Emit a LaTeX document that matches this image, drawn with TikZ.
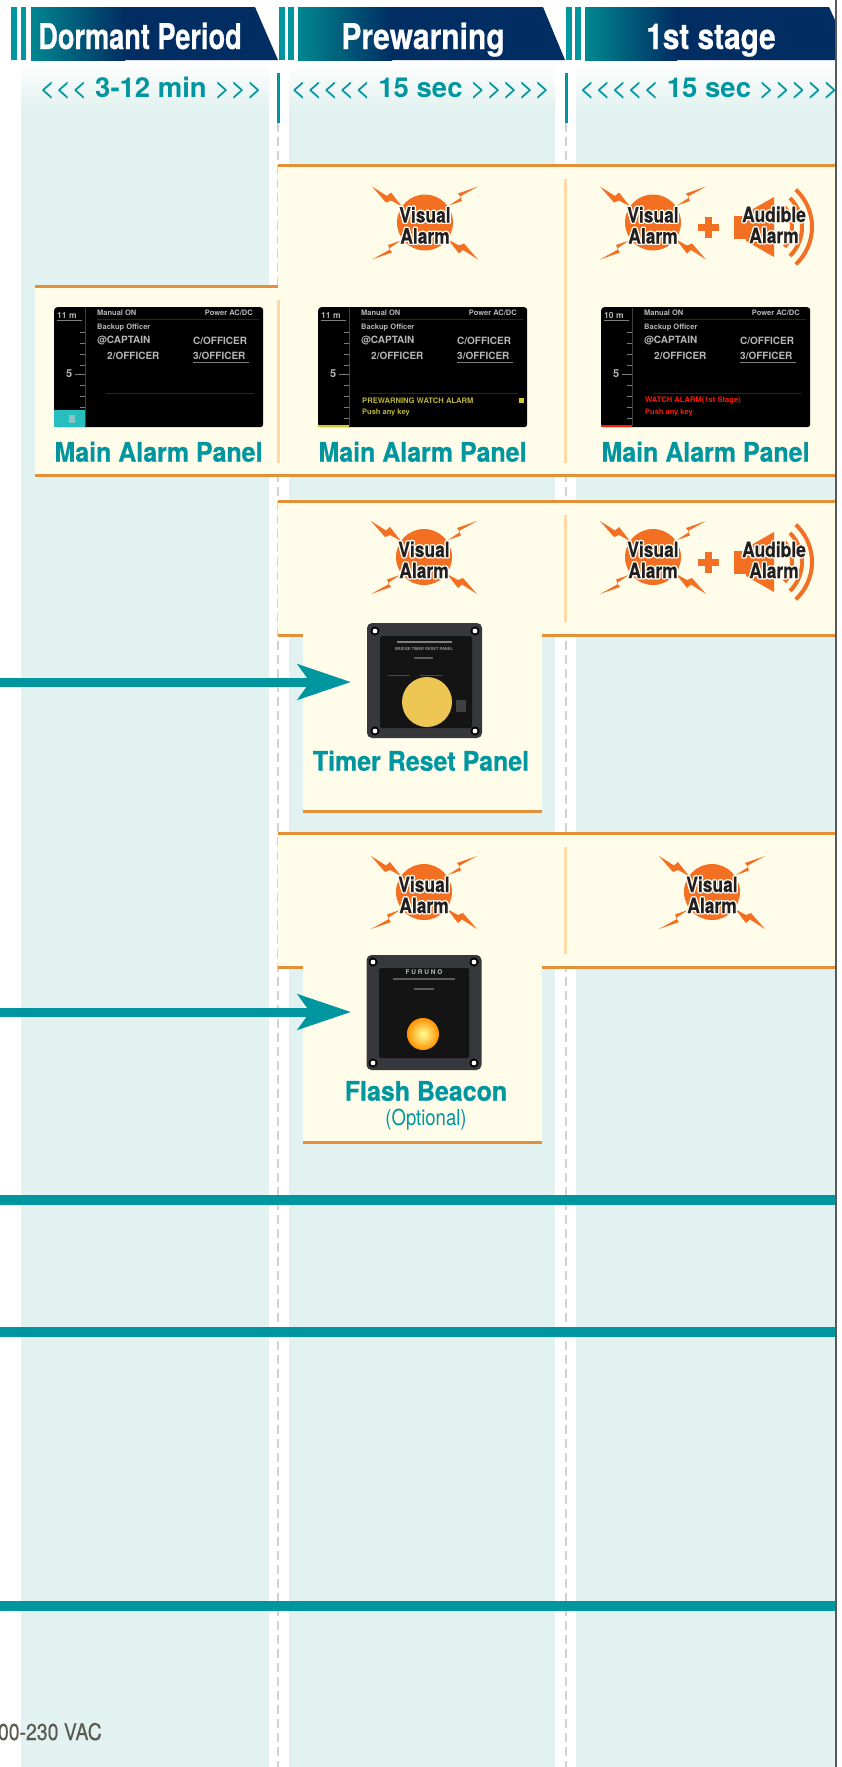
\documentclass[tikz,border=0pt]{standalone}
\usepackage{fontspec}
\usepackage{graphicx}
\usetikzlibrary{arrows.meta}
\setmainfont{TeX Gyre Heros}
\newfontfamily\hdrfont{TeX Gyre Heros}[FakeStretch=0.765,FakeBold=0.5]
\newfontfamily\panfont{TeX Gyre Heros}[FakeStretch=0.925,FakeBold=0.5]
\newfontfamily\iconfont{TeX Gyre Heros}[FakeStretch=0.83,FakeBold=0.4]
\newfontfamily\optfont{TeX Gyre Heros}[FakeStretch=0.84]
\newfontfamily\vacfont{TeX Gyre Heros}[FakeStretch=0.845,FakeBold=0.25]
\newfontfamily\durfont{TeX Gyre Heros}
\definecolor{tealx}{HTML}{0096A0}
\definecolor{navyx}{HTML}{002D62}
\definecolor{palex}{HTML}{E2F2F0}
\definecolor{creamx}{HTML}{FFFCE9}
\definecolor{lineorange}{HTML}{E39039}
\definecolor{softorange}{HTML}{FDD9A8}
\definecolor{iconorange}{HTML}{F36F21}
\definecolor{inkx}{HTML}{231F20}
\definecolor{dashgray}{HTML}{D2D2D2}
\definecolor{edgegray}{HTML}{58595B}
\definecolor{halox}{HTML}{FFFEF5}
\definecolor{scrtext}{HTML}{B4B6B4}
\definecolor{panelbody}{HTML}{36383C}
\definecolor{buttonx}{HTML}{EEC654}
\definecolor{vacx}{HTML}{5A584F}
\newcommand\haloat[3]{\rlap{\kern#1pt\raisebox{#2pt}{\color{halox}#3}}}
\newcommand\halo[1]{\haloat{-1.4}{0}{#1}\haloat{1.4}{0}{#1}\haloat{0}{1.4}{#1}\haloat{0}{-1.4}{#1}\haloat{-1}{-1}{#1}\haloat{1}{-1}{#1}\haloat{-1}{1}{#1}\haloat{1}{1}{#1}#1}
\newcommand\fs[1]{\fontsize{#1}{#1}\selectfont}
\tikzset{
  x=1pt,y=-1pt,
  hdrlabel/.style={anchor=base,inner sep=0pt,text=white,font=\hdrfont\bfseries\fs{35.5}},
  durlabel/.style={anchor=base,inner sep=0pt,text=tealx,font=\durfont\fs{27.5}},
  panlabel/.style={anchor=base,inner sep=0pt,text=tealx,font=\panfont\bfseries\fs{27}},
  iconlabel/.style={anchor=base,inner sep=0pt,text=inkx,font=\iconfont\bfseries\fs{21}},
  bandline/.style={draw=lineorange,line width=3.3pt},
  softrule/.style={draw=softorange,line width=3pt},
  sepdash/.style={draw=dashgray,line width=2.6pt,dash pattern=on 9pt off 5pt},
  sepsolid/.style={draw=tealx,line width=3pt},
  busline/.style={draw=tealx,line width=10pt},
  feedarrow/.style={draw=tealx,line width=9pt,-{Stealth[length=53pt,width=35pt,inset=12pt]}},
  scr/.style={anchor=west,inner sep=0pt,text=scrtext,font=\bfseries\fs{10}},
  scrsmall/.style={anchor=west,inner sep=0pt,text=scrtext,font=\bfseries\fs{7.5}},
  bolt/.style={fill=iconorange},
  tick/.style={draw=scrtext!70!black,line width=.8pt},
  wave/.style={draw=iconorange,line width=4pt},
  screenbox/.style={fill=black,rounded corners=3pt,minimum width=209pt,minimum height=120pt,inner sep=0pt},
  devbody/.style={fill=panelbody,rounded corners=5pt,minimum width=115pt,minimum height=115pt,inner sep=0pt},
}
% visual alarm icon
\newcommand\visualicon[3]{%
\begin{scope}[shift={(#2,#3)}]
  \fill[iconorange] (0,0) circle (28);
  \fill[bolt] (-53,-36)--(-38,-26.5)--(-34,-30)--(-23,-16)--(-34,-22)--(-39,-20)--cycle;
  \fill[bolt] (53,-36)--(33,-29)--(36,-25)--(24,-17)--(37,-21.5)--(35,-26)--cycle;
  \fill[bolt] (-53,37)--(-33,30)--(-36,26)--(-24,18)--(-37,22.5)--(-35,27)--cycle;
  \fill[bolt] (53,37)--(38,27.5)--(34,31)--(23,17)--(34,23)--(39,21)--cycle;
  \node[iconlabel] (#1v) at (0,0) {\halo{Visual}};
  \node[iconlabel] (#1a) at (0,21) {\halo{Alarm}};
\end{scope}}
% plus + audible alarm icon
\newcommand\audibleicon[2]{%
\begin{scope}[shift={(0,#2)}]
  \fill[iconorange] (698,224) rectangle (719,231);
  \fill[iconorange] (705,217) rectangle (712,238);
  \fill[iconorange] (734,216) rectangle (746,239);
  \fill[iconorange] (746,213)--(774,197)--(774,257)--(746,241)--cycle;
  \draw[wave] (761,227) ++(-47:51) arc (-47:47:51);
  \draw[wave] (761,227) ++(-45:41) arc (-45:45:41);
  \draw[wave] (761,227) ++(-40:31) arc (-40:40:31);
  \node[iconlabel] (#1u) at (774,222) {\halo{Audible}};
  \node[iconlabel] (#1a) at (774,243) {\halo{Alarm}};
\end{scope}}
% alarm panel screen; x origin, scale label, extra drawing
\newcommand\screen[4]{%
\begin{scope}[shift={(#2,307)}]
  \node[screenbox,anchor=north west] (#1) at (0,0) {};
  \draw[draw=black!75!white,line width=.8pt] (31,1)--(31,119);
  \node[scr,font=\bfseries\fs{8.5}] (#1dist) at (3,8) {#3};
  \draw[tick] (3,13)--(28,13);
  \foreach \yy in {25,36,47,58,78,89,100,111}{\draw[tick] (26,\yy)--(31,\yy);}
  \draw[tick] (21,67)--(31,67);
  \node[scr,font=\bfseries\fs{11}] (#1five) at (12,67) {5};
  \node[scrsmall] (#1man) at (43,6) {Manual ON};
  \node[scrsmall,anchor=east] (#1pow) at (199,6) {Power AC/DC};
  \draw[draw=white!15!black,line width=.8pt] (43,12)--(205,12);
  \node[scrsmall] (#1bak) at (43,21) {Backup Officer};
  \node[scr] (#1cap) at (43,34) {@CAPTAIN};
  \node[scr] (#1cof) at (139,34) {C/OFFICER};
  \node[scr] (#1two) at (53,49) {2/OFFICER};
  \node[scr] (#1thr) at (139,49) {3/OFFICER};
  \draw[tick] (139,55)--(195,55);
  \draw[draw=white!15!black,line width=.8pt] (52,86)--(200,86);
  #4
\end{scope}}
\begin{document}
\begin{tikzpicture}
\useasboundingbox (0,0) rectangle (842,1767);
\fill[white] (0,0) rectangle (842,1767);

% columns
\foreach \xa/\xb in {21/269,289/555,576/835}{
  \fill[palex] (\xa,108) rectangle (\xb,1767);
  \shade[top color=white,bottom color=palex] (\xa,62) rectangle (\xb,108.5);
}
% separators
\foreach \xx in {278,566}{
  \draw[sepdash] (\xx,123)--(\xx,1767);
  \draw[sepsolid] (\xx,73)--(\xx,123);
}

% header bars
\foreach \xa/\xb in {11/17,21/26,278.5/285,288/294,565.5/571.5,575/581}{
  \fill[tealx] (\xa,7) rectangle (\xb,60);
}
\fill[navyx] (31,7)--(255,7)--(278,60)--(31,60)--cycle;
\shade[left color=tealx!90!black,right color=navyx] (31,7) rectangle (125,60);
\fill[navyx] (298,7)--(543,7)--(565,60)--(298,60)--cycle;
\shade[left color=tealx!90!black,right color=navyx] (298,7) rectangle (392,60);
\fill[navyx] (585,7)--(829,7)--(835,20)--(835,60)--(585,60)--cycle;
\shade[left color=tealx!90!black,right color=navyx] (585,7) rectangle (677,60);
\node[hdrlabel] (h1) at (140,49) {Dormant Period};
\node[hdrlabel] (h2) at (423,49) {\scalebox{1.105}[1]{Prewarning}};
\node[hdrlabel] (h3) at (711,49) {\scalebox{1.095}[1]{1st stage}};

% durations
\node[durlabel] (d1) at (151,97.7) {<<< \textbf{3-12 min} >>>};
\node[durlabel] (d2) at (420.5,97.7) {<<<<< \textbf{15 sec} >>>>>};
\node[durlabel] (d3) at (709,97.7) {<<<<< \textbf{15 sec} >>>>>};

% cream bands
\fill[creamx] (278,165) rectangle (835,475);
\fill[creamx] (35,286) rectangle (278,475);
\fill[creamx] (278,501) rectangle (835,636);
\fill[creamx] (303,636) rectangle (542,812);
\fill[creamx] (278,833) rectangle (835,968);
\fill[creamx] (303,968) rectangle (542,1143);

% orange rules
\draw[bandline] (278,165.5)--(835,165.5);
\draw[bandline] (35,286.5)--(278,286.5);
\draw[bandline] (35,475.5)--(835,475.5);
\draw[bandline] (278,501.5)--(835,501.5);
\draw[bandline] (278,635.5)--(303,635.5);
\draw[bandline] (542,635.5)--(835,635.5);
\draw[bandline] (303,811.5)--(542,811.5);
\draw[bandline] (278,833.5)--(835,833.5);
\draw[bandline] (278,967.5)--(303,967.5);
\draw[bandline] (542,967.5)--(835,967.5);
\draw[bandline] (303,1142.5)--(542,1142.5);

% pale dividers
\draw[softrule] (278.5,300)--(278.5,463);
\draw[softrule] (565.7,179)--(565.7,463);
\draw[softrule] (565.7,515)--(565.7,622);
\draw[softrule] (565.7,847)--(565.7,954);

% alarm icons
\visualicon{va}{425}{222.5}
\visualicon{vb}{653}{222.5}
\audibleicon{aa}{0}
\visualicon{vc}{424}{557}
\visualicon{vd}{653}{557}
\audibleicon{ab}{335}
\visualicon{ve}{424}{892}
\visualicon{vf}{712}{892}

% main alarm panel screens
\screen{s1}{54}{11 m}{%
  \fill[teal!60!cyan!85!white] (0,103) rectangle (31,120);
  \fill[white!55!teal] (15,108) rectangle (21,116);}
\screen{s2}{318}{11 m}{%
  \fill[yellow!80!black] (0,118) rectangle (31,120);
  \node[scrsmall,text=yellow!70!black,font=\bfseries\fs{7.6}] (s2st) at (44,94) {PREWARNING WATCH ALARM};
  \node[scrsmall,text=yellow!70!black] (s2pu) at (44,106) {Push any key};
  \fill[yellow!80!black] (201,91) rectangle (206,96);}
\screen{s3}{601}{10 m}{%
  \fill[red!80!orange] (0,118) rectangle (31,120);
  \node[scrsmall,text=red!80!orange,font=\bfseries\fs{7.6}] (s3st) at (44,94) {WATCH ALARM(1st Stage)};
  \node[scrsmall,text=red!80!orange] (s3pu) at (44,106) {Push any key};}
\node[panlabel] (m1) at (158.5,461.7) {Main Alarm Panel};
\node[panlabel] (m2) at (422.5,461.7) {Main Alarm Panel};
\node[panlabel] (m3) at (705.5,461.7) {Main Alarm Panel};

% timer reset panel
\node[devbody] (timer) at (424.5,680.5) {};
\fill[black!92!white,rounded corners=2pt] (380,636) rectangle (472,728);
\fill[buttonx] (427,702) circle (25);
\fill[white!25!black] (456,700) rectangle (466,712);
\foreach \px/\py in {375/631,475/631,375/731,475/731}{
  \fill[black] (\px,\py) circle (4.5);
  \fill[white] (\px,\py) circle (2.4);
}
\node[anchor=center,inner sep=0pt,text=scrtext!80!black,font=\bfseries\fs{4}] (t1) at (424,649) {BRIDGE TIMER RESET PANEL};
\fill[scrtext!70!black] (397,640.5) rectangle (452,643);
\fill[scrtext!50!black] (414,657) rectangle (433,659);
\fill[scrtext!40!black] (388,674.5) rectangle (410,676);
\fill[scrtext!40!black] (420,674.5) rectangle (442,676);
\node[panlabel] (tl) at (421,770.7) {Timer Reset Panel};

% flash beacon
\node[devbody] (beacon) at (424,1012.5) {};
\fill[black!92!white,rounded corners=2pt] (379,968) rectangle (469,1058);
\shade[inner color=yellow!40!white,outer color=orange!85!yellow] (423,1034) circle (16);
\foreach \px/\py in {373/962,474/962,373/1063,474/1063}{
  \fill[black] (\px,\py) circle (4.5);
  \fill[white] (\px,\py) circle (2.4);
}
\node[anchor=center,inner sep=0pt,text=scrtext,font=\bfseries\fs{6.5}] (b1) at (424,972.5) {F U R U N O};
\fill[scrtext!50!black] (393,978) rectangle (455,980);
\fill[scrtext!50!black] (414,988) rectangle (434,990);
\node[panlabel] (bl) at (426,1100.7) {Flash Beacon};
\node[anchor=base,inner sep=0pt,text=tealx,font=\optfont\fs{22}] (bo) at (426,1125) {(Optional)};

% feeds
\coordinate (f1) at (0,682);
\coordinate (f1t) at (351,682);
\coordinate (f2) at (0,1012);
\coordinate (f2t) at (351,1012);
\draw[feedarrow] (f1)--(f1t);
\draw[feedarrow] (f2)--(f2t);

% teal bus lines
\foreach \nm/\yy in {ba/1200,bb/1332,bc/1606}{
  \coordinate (\nm l) at (0,\yy);
  \coordinate (\nm r) at (835,\yy);
  \draw[busline] (\nm l)--(\nm r);
}

% voltage label
\node[anchor=base east,inner sep=0pt,text=vacx,font=\vacfont\fs{23}] (vac) at (102,1740) {00-230 VAC};

% right edge
\coordinate (et) at (836,0);
\coordinate (eb) at (836,1767);
\draw[draw=edgegray,line width=2pt] (et)--(eb);
\end{tikzpicture}
\end{document}
